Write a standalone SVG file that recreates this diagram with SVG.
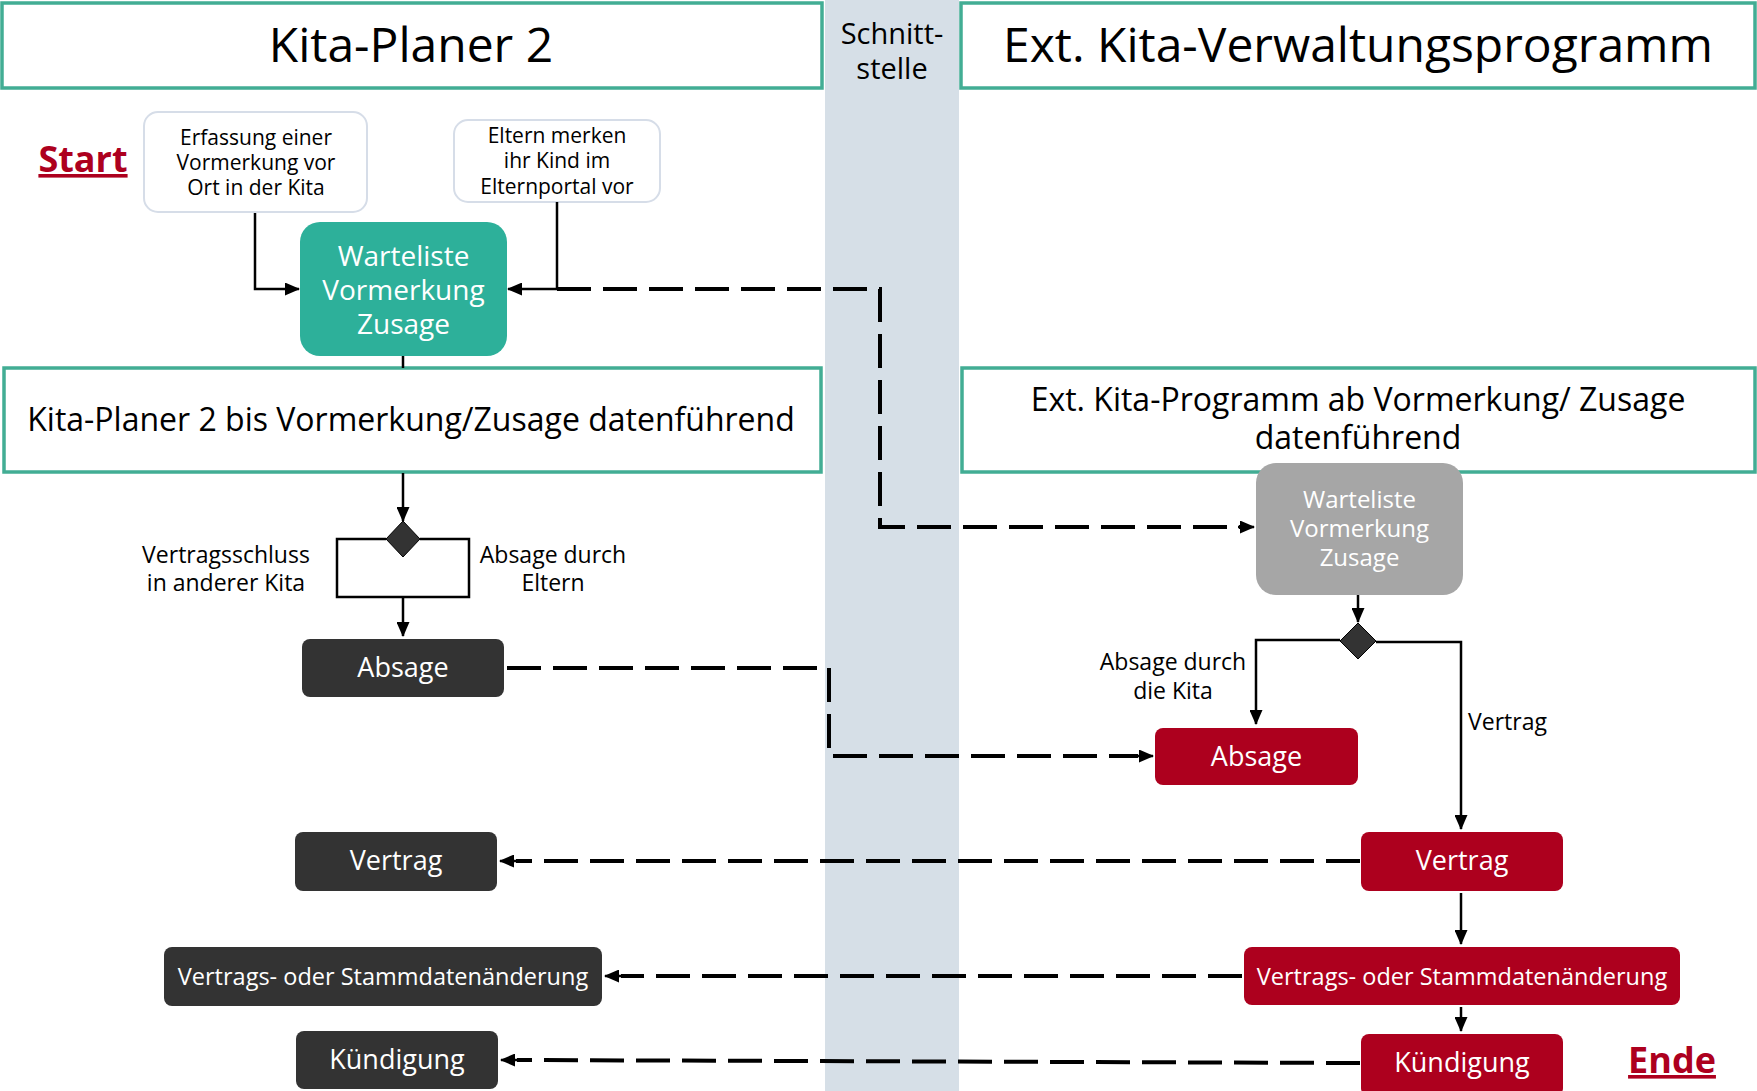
<svg xmlns="http://www.w3.org/2000/svg" width="1757" height="1091" viewBox="0 0 1757 1091">
<defs>
<style>
text{font-family:"Open Sans","Noto Sans","Liberation Sans",sans-serif;text-anchor:middle;}
.hdr{fill:#fff;stroke:#42ad94;stroke-width:3.5;}
.note{fill:#fff;stroke:#d6dde8;stroke-width:2;}
.dark{fill:#333333;}
.red{fill:#ad001e;}
.wt{fill:#fff;}
.solid{fill:none;stroke:#000;stroke-width:2.5;}
.dash{fill:none;stroke:#000;stroke-width:4;stroke-dasharray:34 12;}
.big{font-size:48px;}
.mid{font-size:32px;}
.lbl{font-size:23px;}
.nt{font-size:21px;}
.bold{font-weight:bold;font-size:36px;fill:#ad001e;text-decoration:underline;}
</style>
<marker id="ah" viewBox="0 0 15 13" refX="14" refY="6.5" markerWidth="15" markerHeight="13" markerUnits="userSpaceOnUse" orient="auto">
<path d="M0,0 L15,6.5 L0,13 Z" fill="#000"/>
</marker>
</defs>
<rect width="1757" height="1091" fill="#fff"/>
<rect x="825" y="0" width="134" height="1091" fill="#d6dfe7"/>

<g id="header-left">
<rect class="hdr" x="2" y="3" width="820" height="85"/>
<text class="big" x="411" y="62">Kita-Planer 2</text>
</g>
<g id="header-mid">
<text style="font-size:29px" x="892" y="44">Schnitt-<tspan x="892" dy="35">stelle</tspan></text>
</g>
<g id="header-right">
<rect class="hdr" x="961" y="3" width="794" height="85"/>
<text class="big" x="1358" y="62">Ext. Kita-Verwaltungsprogramm</text>
</g>
<g id="start"><text class="bold" x="83" y="172">Start</text></g>
<g id="end"><text class="bold" x="1672" y="1073">Ende</text></g>

<g id="note-erfassung">
<rect class="note" x="144" y="112" width="223" height="100" rx="14"/>
<text class="nt" x="256" y="145">Erfassung einer<tspan x="256" dy="25">Vormerkung vor</tspan><tspan x="256" dy="25">Ort in der Kita</tspan></text>
</g>
<g id="note-eltern">
<rect class="note" x="454" y="120" width="206" height="82" rx="14"/>
<text class="nt" x="557" y="143">Eltern merken<tspan x="557" dy="25">ihr Kind im</tspan><tspan x="557" dy="26">Elternportal vor</tspan></text>
</g>
<g id="kp-warteliste">
<rect x="300" y="222" width="207" height="134" rx="20" fill="#2db09a"/>
<text class="wt" style="font-size:28px" x="403.5" y="266">Warteliste<tspan x="403.5" dy="34">Vormerkung</tspan><tspan x="403.5" dy="34">Zusage</tspan></text>
</g>
<g id="kp-datenfuehrend">
<rect class="hdr" x="4" y="368" width="817" height="104"/>
<text class="mid" x="411" y="431">Kita-Planer 2 bis Vormerkung/Zusage datenführend</text>
</g>
<g id="ext-datenfuehrend">
<rect class="hdr" x="962" y="368" width="793" height="104"/>
<text class="mid" x="1358" y="411">Ext. Kita-Programm ab Vormerkung/ Zusage<tspan x="1358" dy="38">datenführend</tspan></text>
</g>
<g id="ext-warteliste">
<rect x="1256" y="463" width="207" height="132" rx="20" fill="#a6a6a6"/>
<text class="wt" style="font-size:24px" x="1359.5" y="508">Warteliste<tspan x="1359.5" dy="29">Vormerkung</tspan><tspan x="1359.5" dy="29">Zusage</tspan></text>
</g>
<g id="kp-decision">
<path d="M403,521 L420,539 L403,557 L386,539 Z" fill="#333" stroke="#000" stroke-width="1"/>
</g>
<g id="ext-decision">
<path d="M1358,623 L1376,641 L1358,659 L1340,641 Z" fill="#333" stroke="#000" stroke-width="1"/>
</g>
<g id="kp-absage">
<rect class="dark" x="302" y="639" width="202" height="58" rx="8"/>
<text class="wt" style="font-size:27px" x="403" y="677">Absage</text>
</g>
<g id="ext-absage">
<rect class="red" x="1155" y="728" width="203" height="57" rx="8"/>
<text class="wt" style="font-size:27px" x="1256.5" y="766">Absage</text>
</g>
<g id="kp-vertrag">
<rect class="dark" x="295" y="832" width="202" height="59" rx="8"/>
<text class="wt" style="font-size:27px" x="396" y="870">Vertrag</text>
</g>
<g id="ext-vertrag">
<rect class="red" x="1361" y="832" width="202" height="59" rx="8"/>
<text class="wt" style="font-size:27px" x="1462" y="870">Vertrag</text>
</g>
<g id="kp-aenderung">
<rect class="dark" x="164" y="947" width="438" height="59" rx="8"/>
<text class="wt" style="font-size:23.5px" x="383" y="985">Vertrags- oder Stammdatenänderung</text>
</g>
<g id="ext-aenderung">
<rect class="red" x="1244" y="947" width="436" height="58" rx="8"/>
<text class="wt" style="font-size:23.5px" x="1462" y="985">Vertrags- oder Stammdatenänderung</text>
</g>
<g id="kp-kuendigung">
<rect class="dark" x="296" y="1031" width="202" height="58" rx="8"/>
<text class="wt" style="font-size:27px" x="397" y="1069">Kündigung</text>
</g>
<g id="ext-kuendigung">
<rect class="red" x="1361" y="1034" width="202" height="62" rx="8"/>
<text class="wt" style="font-size:27px" x="1462" y="1072">Kündigung</text>
</g>

<g id="labels">
<text class="lbl" x="226" y="563">Vertragsschluss<tspan x="226" dy="28">in anderer Kita</tspan></text>
<text class="lbl" x="553" y="563">Absage durch<tspan x="553" dy="28">Eltern</tspan></text>
<text class="lbl" x="1173" y="670">Absage durch<tspan x="1173" dy="29">die Kita</tspan></text>
<text class="lbl" x="1468" y="730" style="text-anchor:start">Vertrag</text>
</g>

<g id="connectors">
<path class="solid" d="M255,213 V289 H299" marker-end="url(#ah)"/>
<path class="solid" d="M557,202 V289 H508" marker-end="url(#ah)"/>
<path class="solid" d="M403,356 V368"/>
<path class="solid" d="M403,473 V521" marker-end="url(#ah)"/>
<path class="solid" d="M386,539 H337 V597 H469 V539 H420"/>
<path class="solid" d="M403,597 V636" marker-end="url(#ah)"/>
<path class="solid" d="M1358,595 V622" marker-end="url(#ah)"/>
<path class="solid" d="M1340,640 H1256 V724" marker-end="url(#ah)"/>
<path class="solid" d="M1376,642 H1461 V829" marker-end="url(#ah)"/>
<path class="solid" d="M1461,893 V944" marker-end="url(#ah)"/>
<path class="solid" d="M1461,1007 V1031" marker-end="url(#ah)"/>
<path class="dash" d="M557,289 H880 V527 H1240"/>
<path class="solid" d="M1238,527 H1254" marker-end="url(#ah)"/>
<path class="dash" d="M507,668 H829 V756 H1138"/>
<path class="solid" d="M1136,756 H1153" marker-end="url(#ah)"/>
<path class="dash" d="M1360,861 H516"/>
<path class="solid" d="M518,861 H500" marker-end="url(#ah)"/>
<path class="dash" d="M1242,976 H621"/>
<path class="solid" d="M623,976 H605" marker-end="url(#ah)"/>
<path class="dash" d="M1360,1063 L517,1060"/>
<path class="solid" d="M519,1060 H501" marker-end="url(#ah)"/>
</g>
</svg>
